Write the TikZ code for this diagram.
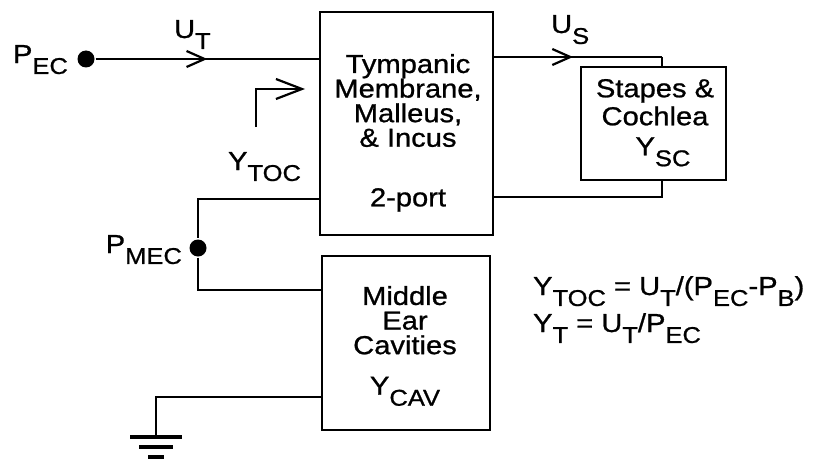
\documentclass[tikz,border=0pt]{standalone}
\usepackage{fontspec}
\setmainfont{Liberation Sans}[FakeStretch=1.12,FakeBold=0.9]
\usepackage{tikz}
\usetikzlibrary{arrows.meta,positioning,decorations.markings}
\newcommand{\lowsub}[1]{\raisebox{-0.42em}{\fontsize{11.4}{11.4}\selectfont #1}}

\begin{document}
\begin{tikzpicture}[x=0.5pt,y=-0.5pt,line width=1.1pt,
  every node/.style={font=\fontsize{13}{12.3}\selectfont},
  blk/.style={draw,rectangle,inner sep=0pt},
  blktxt/.style={align=center,anchor=north,inner sep=0pt},
  dot/.style={circle,fill,inner sep=0pt,minimum size=8.5pt},
  lbl/.style={inner sep=0pt,anchor=base west},
  flow/.style={postaction={decorate},decoration={markings,
    mark=at position #1 with {\arrow{Straight Barb[length=9pt,width=8pt]}}}}]
  \useasboundingbox (0,0) rectangle (822,460);

  % ブロック
  \node[blk,minimum width=86.5pt,minimum height=111.5pt] (tm) at (406.5,123.5) {};
  \node[blk,minimum width=72.5pt,minimum height=56.5pt] (sc) at (653.5,123.5) {};
  \node[blk,minimum width=84pt,minimum height=87pt] (cav) at (406,343) {};

  % ブロックの文字
  \node[blktxt] (tmtxt) at (408,53)
    {Tympanic\\Membrane,\\Malleus,\\\& Incus\\[17.5pt]2-port};
  \node[blktxt,font=\fontsize{13}{14}\selectfont] (sctxt) at (655,78)
    {Stapes \&\\Cochlea\\[1pt]\hspace*{8pt}Y\lowsub{SC}};
  \node[blktxt] (cavtxt) at (405,285)
    {Middle\\Ear\\Cavities\\[8pt]Y\lowsub{CAV}};

  % 節点
  \node[dot] (pec) at (86,59) {};
  \node[dot] (pmec) at (198,248) {};
  \node[lbl,anchor=base east] (peclbl) at (69,63) {P\lowsub{EC}};
  \node[lbl,anchor=base east] (pmeclbl) at (183,253) {P\lowsub{MEC}};

  % 入力側
  \draw[flow=0.5] (pec) -- (pec -| tm.west);
  \node[lbl] (utlbl) at (173,38) {U\lowsub{T}};
  \coordinate (ya) at (256,127);
  \coordinate (yb) at (305,89);
  \draw[-{Straight Barb[length=13pt,width=10pt]}] (ya) |- (yb);
  \node[lbl] (ytoclbl) at (227,170) {Y\lowsub{TOC}};

  % 出力側
  \coordinate (usn) at (662,57);
  \coordinate (uss) at (662,197);
  \draw[flow=0.47] (usn -| tm.east) -- (usn);
  \draw (usn) -- (usn |- sc.north);
  \draw (uss -| tm.east) -- (uss) -- (uss |- sc.south);
  \node[lbl] (uslbl) at (550,33) {U\lowsub{S}};

  % 中耳腔
  \coordinate (mt) at (198,199);
  \coordinate (mb) at (198,290);
  \draw (mt -| tm.west) -- (mt) -- (pmec) -- (mb) -- (mb -| cav.west);

  % 接地
  \coordinate (gt) at (156,397);
  \coordinate (gnd) at (156,437);
  \draw (gt -| cav.west) -- (gt) -- (gnd);
  \foreach \dy/\w in {0/26,10/17,20/8}
    \draw[line width=2pt] (gnd) ++(-\w,\dy) -- ++(2*\w,0);

  % 式
  \node[lbl] (eqtoc) at (532,295) {Y\lowsub{TOC} = U\lowsub{T}/(P\lowsub{EC}-P\lowsub{B})};
  \node[lbl] (eqt) at (532,332) {Y\lowsub{T} = U\lowsub{T}/P\lowsub{EC}};
\end{tikzpicture}
\end{document}
